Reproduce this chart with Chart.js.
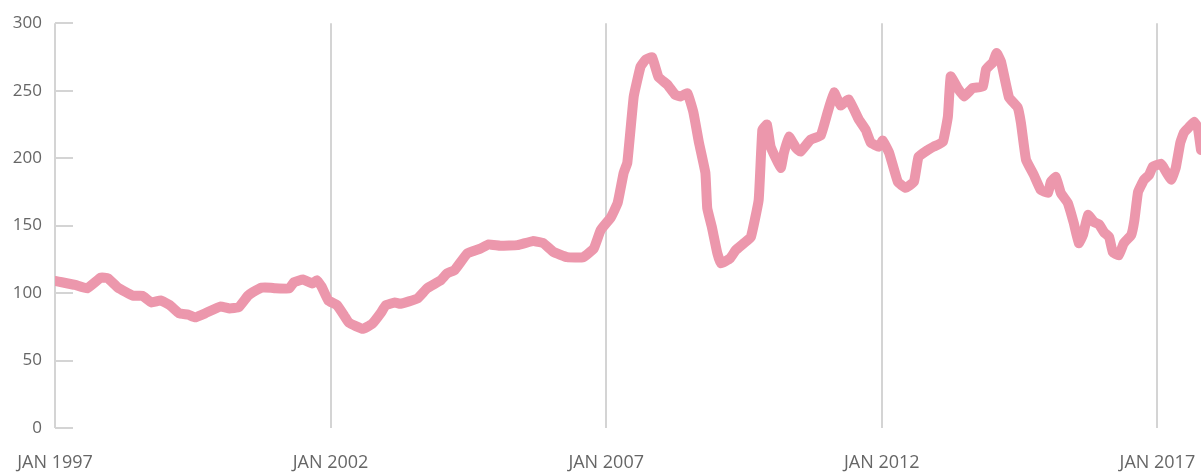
<!DOCTYPE html>
<html>
<head>
<meta charset="utf-8">
<script src="https://cdn.jsdelivr.net/npm/chart.js@4"></script>
<style>
  html, body { margin: 0; padding: 0; background: #fff; overflow: hidden; }
  #wrap { position: relative; width: 1201px; height: 486px; }
</style>
</head>
<body>
<div id="wrap"><canvas id="myChart"></canvas></div>
<script>
// months since JAN 1997
var meses = [0,1.5,4.4,7,10,11.5,13.7,17,19,21,23,25,27,29,30.5,32.7,36,38,40,42,43,45,47,48,51,52,54,56,57,58,59.5,61.4,63,64,67,69,71,72,74,
  75.2,78.9,81,84,85.4,87,89.8,92.6,94.4,97,100.7,104,106.3,108.5,111.5,115,117.3,118.8,121,122.5,123.8,124.6,126,127.5,128.6,130,131.4,133.3,135,136.2,137.7,139,140.2,141.6,142,143,144.2,145,147,148.2,150,151.5,153.2,154,155,155.8,158,158.7,159.8,161.3,
  162.3,164.5,166.7,168.2,169.6,171,172.8,175,176.5,177.6,179.4,180.2,181.6,183.5,185.2,187,188,190,191.3,193.3,194.4,195,196.5,197.9,199.8,202,202.7,204.2,205,206,207.7,209.6,210.3,211.4,213.1,214.6,216.2,216.8,217.9,219,220.5,221.8,222.9,223.8,224.9,226.2,227.3,228.4,229.5,230.3,231.6,232.7,234.3,235,235.8,237.1,238.2,239,240.8,241.4,243,244,245,245.8,246.8,248,248.8,249.5];
var valores = [109,108,106,103.5,111.5,111,104,98,98,93,94.5,91,85,84,82,85,90,88.6,89.5,98,100.5,104,104,103.5,103.5,108,110,107,109.5,105,94.5,91,83,78,73.5,77,85.6,91,93,
  92,96,103.5,109.5,114.7,117,129.5,133,136,135,135.5,138.5,137,130.5,126.6,126.6,133,146.7,156,166.8,189,196.6,245.7,268,273,274.8,260,254.6,247,245.7,248,233.8,211.5,189,163,149,129.5,122,125.8,131.8,137,141.5,169,221,224.9,208.5,192.8,204,216,207.7,
  204.8,213.7,216.7,233.8,248.7,239,243.5,228.6,221,211.5,208.5,213,204,182.4,178,182.4,201,206,208.5,212,231,260.6,252,245.7,252,253,265.8,271,278,271,245,237.5,226,198.8,187.6,176.5,174.2,182.4,186,174,166.8,151.9,137,143,157.9,152.6,151,145,141.5,130.3,128,137,143,154,175,184,187.6,193.6,195.8,192.8,184,192.8,211.5,219,222.6,227,222.6,206];
var anoInicial = 1997;
var ticksY = [0, 50, 100, 150, 200, 250, 300];

const pontos = meses.map(function(m, i){ return { x: m, y: valores[i] }; });

// short tick marks drawn inside the plot, starting at the left axis
var marcas = {
  id: "marcas",
  afterDatasetsDraw(chart){
    const { ctx, chartArea: { left } } = chart;
    const y = chart.scales.y;
    ctx.save();
    ctx.strokeStyle = '#d4d4d4';
    ctx.lineWidth = 2;
    ticksY.forEach(function(v){
      const py = Math.round(y.getPixelForValue(v));
      ctx.beginPath();
      ctx.moveTo(left, py);
      ctx.lineTo(left + 18, py);
      ctx.stroke();
    });
    ctx.restore();
  }
};

new Chart(document.getElementById('myChart'), {
  type: 'line',
  data: {
    datasets: [{
      data: pontos,
      borderColor: '#ec97ac',
      borderWidth: 10,
      pointRadius: 0,
      tension: 0.1,
      borderJoinStyle: 'round',
      borderCapStyle: 'round'
    }]
  },
  options: {
    animation: false,
    responsive: true,
    maintainAspectRatio: false,
    layout: { padding: { top: 13, right: 0, left: 0, bottom: 0 } },
    plugins: { legend: { display: false }, tooltip: { enabled: false } },
    scales: {
      x: {
        type: 'linear',
        min: 0,
        max: 249.5,
        afterFit: function(s){ s.paddingLeft = 0; s.paddingRight = 0; s.height = 58; },
        grid: { color: '#d4d4d4', lineWidth: 2, drawTicks: false },
        border: { display: false },
        ticks: {
          stepSize: 60,
          includeBounds: false,
          autoSkip: false,
          maxRotation: 0,
          padding: 24,
          color: '#666',
          font: { family: 'Open Sans', size: 18 },
          callback: function(v){ return 'JAN ' + (anoInicial + v / 12); }
        }
      },
      y: {
        min: 0,
        max: 300,
        afterFit: function(s){ s.width = 55; },
        grid: { display: false, drawTicks: false },
        border: { display: false },
        ticks: {
          stepSize: 50,
          padding: 13,
          color: '#666',
          font: { family: 'Open Sans', size: 17 }
        }
      }
    }
  },
  plugins: [marcas]
});
</script>
</body>
</html>
